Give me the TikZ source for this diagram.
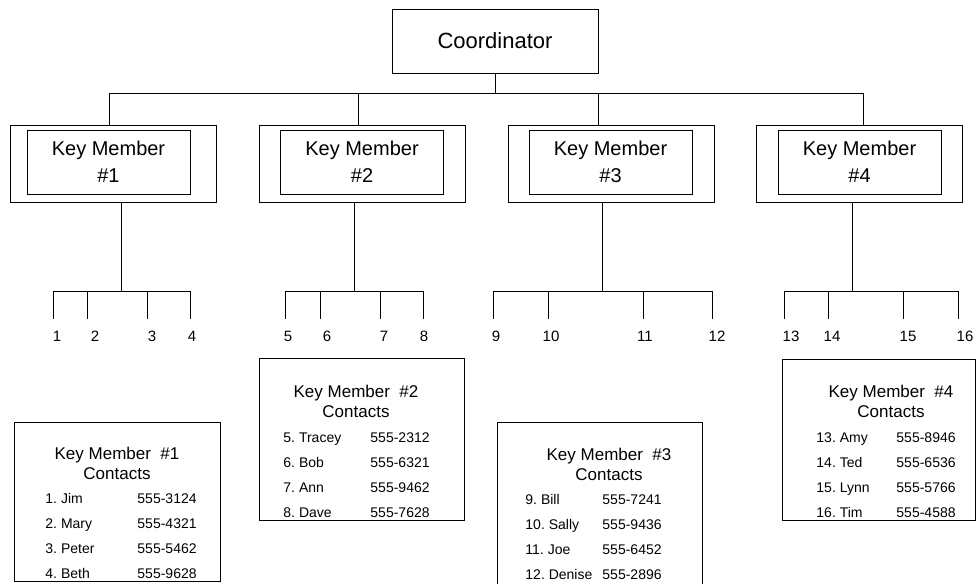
\documentclass[tikz,border=0pt]{standalone}
\usepackage{fontspec}
\setmainfont{Liberation Sans}
\usetikzlibrary{positioning}
\frenchspacing

\tikzset{
  plainbox/.style={draw, rectangle, inner sep=0pt},
  leaf/.style={inner sep=0pt, font=\fontsize{15}{18}\selectfont},
  ctitle/.style={align=center, inner sep=0pt, font=\fontsize{17}{20}\selectfont},
  crow/.style={anchor=base west, inner sep=0pt, font=\fontsize{14}{16}\selectfont}
}

\begin{document}
\begin{tikzpicture}[x=1pt, y=-1pt, line width=0.9pt]
\useasboundingbox (0,0) rectangle (976,583);

% top of the tree
\node[plainbox, minimum width=206pt, minimum height=64pt, font=\fontsize{22}{26}\selectfont] (coord) at (495,41) {Coordinator};

\foreach \i/\ox/\ix in {1/113/108.5, 2/362/362, 3/611/610.5, 4/859.5/859.5} {
  \node[plainbox, minimum width=206pt, minimum height=77pt] (km\i) at (\ox,163.5) {};
  \node[plainbox, minimum width=163pt, minimum height=64pt, align=center, font=\fontsize{20}{27}\selectfont] (kmin\i) at (\ix,162) {Key Member\\\#\i};
}

\coordinate (bus) at (coord.south |- 0,93);
\draw (coord.south) -- (bus);
\foreach \i/\bx in {1/109, 2/358, 3/598, 4/863}
  \coordinate (top\i) at (\bx,93);
\draw (top1) -- (top4);
\foreach \i in {1,...,4}
  \draw (top\i) -- (top\i |- km\i.north);

% stems down to the contacts
\foreach \i/\sx in {1/121, 2/354, 3/602, 4/852} {
  \coordinate (stem\i) at (\sx,291);
  \draw (stem\i |- km\i.south) -- (stem\i);
}

\foreach \n/\tx/\lx in {1/53/57, 2/87/95, 3/147/152, 4/190/192,
    5/285/288, 6/320/327, 7/380/384, 8/423/424,
    9/493/496, 10/548/551, 11/643/645, 12/712/717,
    13/784/791, 14/828/832, 15/903/908, 16/958/965} {
  \coordinate (tick\n) at (\tx,291);
  \draw (tick\n) -- (tick\n |- 0,319);
  \node[leaf] (n\n) at (\lx,336) {\n};
}
\draw (tick1) -- (tick4);
\draw (tick5) -- (tick8);
\draw (tick9) -- (tick12);
\draw (tick13) -- (tick16);

% contact lists
\node[plainbox, minimum width=206pt, minimum height=159pt] (c1) at (117,501.5) {};
\node[plainbox, minimum width=205pt, minimum height=162pt] (c2) at (361.5,439) {};
\node[plainbox, minimum width=205pt, minimum height=168pt] (c3) at (599.5,506) {};
\node[plainbox, minimum width=193pt, minimum height=161pt] (c4) at (878.5,439.5) {};

\node[ctitle] (t1) at (117,463) {Key Member\ \ \#1\\Contacts};
\node[ctitle] (t2) at (356,401) {Key Member\ \ \#2\\Contacts};
\node[ctitle] (t3) at (609,464.5) {Key Member\ \ \#3\\Contacts};
\node[ctitle] (t4) at (891,401) {Key Member\ \ \#4\\Contacts};

\foreach \nm/\ph [count=\r] in {1. Jim/555-3124, 2. Mary/555-4321, 3. Peter/555-5462, 4. Beth/555-9628} {
  \node[crow] (c1n\r) at (45,{503+25.3*(\r-1)}) {\nm};
  \node[crow] (c1p\r) at (137,{503+25.3*(\r-1)}) {\ph};
}
\foreach \nm/\ph [count=\r] in {5. Tracey/555-2312, 6. Bob/555-6321, 7. Ann/555-9462, 8. Dave/555-7628} {
  \node[crow] (c2n\r) at (283,{442+25.3*(\r-1)}) {\nm};
  \node[crow] (c2p\r) at (370,{442+25.3*(\r-1)}) {\ph};
}
\foreach \nm/\ph [count=\r] in {9. Bill/555-7241, 10. Sally/555-9436, 11. Joe/555-6452, 12. Denise/555-2896} {
  \node[crow] (c3n\r) at (525,{504+25.3*(\r-1)}) {\nm};
  \node[crow] (c3p\r) at (602,{504+25.3*(\r-1)}) {\ph};
}
\foreach \nm/\ph [count=\r] in {13. Amy/555-8946, 14. Ted/555-6536, 15. Lynn/555-5766, 16. Tim/555-4588} {
  \node[crow] (c4n\r) at (816,{442+25.3*(\r-1)}) {\nm};
  \node[crow] (c4p\r) at (896,{442+25.3*(\r-1)}) {\ph};
}
\end{tikzpicture}
\end{document}
